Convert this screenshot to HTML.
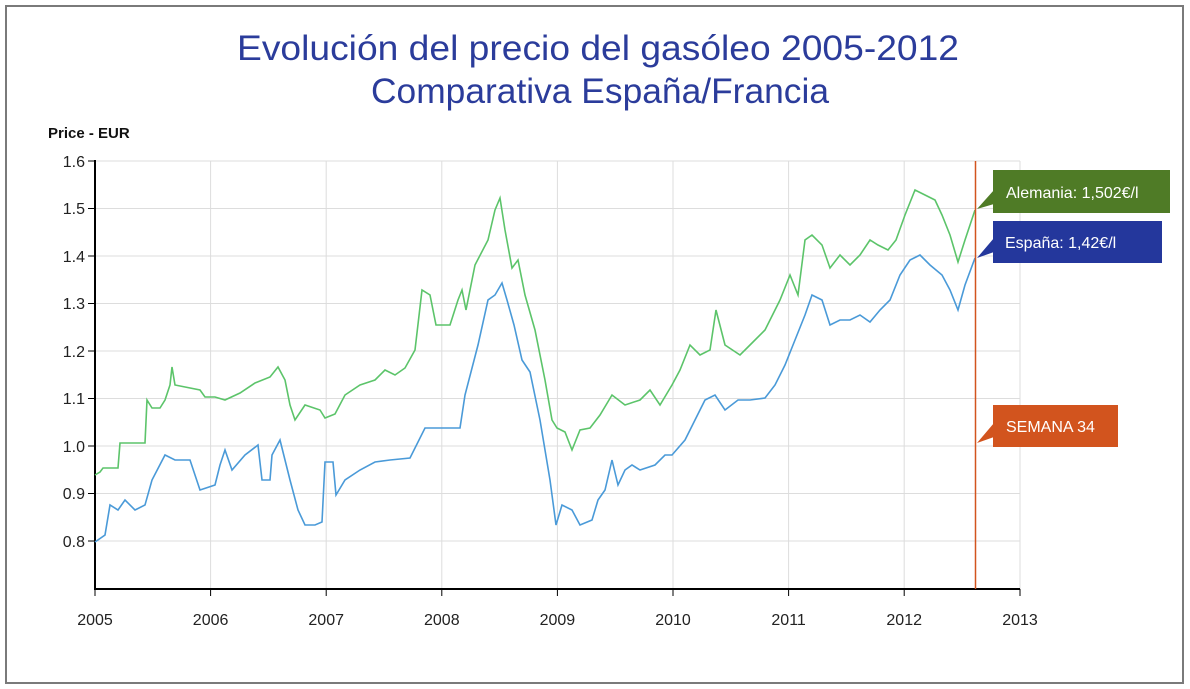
<!DOCTYPE html>
<html><head><meta charset="utf-8"><style>
body{margin:0;background:#fff;}
svg{display:block;font-family:"Liberation Sans",sans-serif;}
</style></head><body>
<svg width="1190" height="689" viewBox="0 0 1190 689">
<rect x="6" y="6" width="1177" height="677" fill="#fff" stroke="#7a7a7a" stroke-width="2"/>
<text x="598" y="60" text-anchor="middle" font-size="35" fill="#2b3c9b" textLength="722" lengthAdjust="spacingAndGlyphs">Evolución del precio del gasóleo 2005-2012</text>
<text x="600" y="103" text-anchor="middle" font-size="35" fill="#2b3c9b" textLength="458" lengthAdjust="spacingAndGlyphs">Comparativa España/Francia</text>
<text x="48" y="138" font-size="15" font-weight="bold" fill="#111">Price - EUR</text>
<g stroke="#ddd" stroke-width="1">
<line x1="95" y1="161" x2="1020" y2="161"/><line x1="95" y1="208.5" x2="1020" y2="208.5"/>
<line x1="95" y1="256" x2="1020" y2="256"/><line x1="95" y1="303.5" x2="1020" y2="303.5"/>
<line x1="95" y1="351" x2="1020" y2="351"/><line x1="95" y1="398.5" x2="1020" y2="398.5"/>
<line x1="95" y1="446" x2="1020" y2="446"/><line x1="95" y1="493.5" x2="1020" y2="493.5"/>
<line x1="95" y1="541" x2="1020" y2="541"/>
<line x1="210.6" y1="161" x2="210.6" y2="589"/><line x1="326.2" y1="161" x2="326.2" y2="589"/>
<line x1="441.8" y1="161" x2="441.8" y2="589"/><line x1="557.4" y1="161" x2="557.4" y2="589"/>
<line x1="673" y1="161" x2="673" y2="589"/><line x1="788.6" y1="161" x2="788.6" y2="589"/>
<line x1="904.2" y1="161" x2="904.2" y2="589"/><line x1="1020" y1="161" x2="1020" y2="589"/>
</g>
<g stroke="#000" stroke-width="2" fill="none">
<line x1="95" y1="160" x2="95" y2="590"/><line x1="94" y1="589" x2="1020" y2="589"/>
</g>
<g stroke="#000" stroke-width="1">
<line x1="88" y1="161" x2="95" y2="161"/><line x1="88" y1="208.5" x2="95" y2="208.5"/><line x1="88" y1="256" x2="95" y2="256"/><line x1="88" y1="303.5" x2="95" y2="303.5"/><line x1="88" y1="351" x2="95" y2="351"/><line x1="88" y1="398.5" x2="95" y2="398.5"/><line x1="88" y1="446" x2="95" y2="446"/><line x1="88" y1="493.5" x2="95" y2="493.5"/><line x1="88" y1="541" x2="95" y2="541"/>
<line x1="95" y1="589" x2="95" y2="596"/><line x1="210.6" y1="589" x2="210.6" y2="596"/><line x1="326.2" y1="589" x2="326.2" y2="596"/><line x1="441.8" y1="589" x2="441.8" y2="596"/><line x1="557.4" y1="589" x2="557.4" y2="596"/><line x1="673" y1="589" x2="673" y2="596"/><line x1="788.6" y1="589" x2="788.6" y2="596"/><line x1="904.2" y1="589" x2="904.2" y2="596"/><line x1="1020" y1="589" x2="1020" y2="596"/>
</g>
<g font-size="16" fill="#222" text-anchor="end">
<text x="85" y="167">1.6</text><text x="85" y="214">1.5</text><text x="85" y="262">1.4</text><text x="85" y="309">1.3</text><text x="85" y="357">1.2</text><text x="85" y="404">1.1</text><text x="85" y="452">1.0</text><text x="85" y="499">0.9</text><text x="85" y="547">0.8</text>
</g>
<g font-size="16" fill="#222" text-anchor="middle">
<text x="95" y="625">2005</text><text x="210.6" y="625">2006</text><text x="326.2" y="625">2007</text><text x="441.8" y="625">2008</text><text x="557.4" y="625">2009</text><text x="673" y="625">2010</text><text x="788.6" y="625">2011</text><text x="904.2" y="625">2012</text><text x="1020" y="625">2013</text>
</g>
<polyline fill="none" stroke="#5cc46a" stroke-width="1.6" points="95,475 100,472 103,468 118,468 120,443 145,443 147,400 152,408 160,408 165,400 170,385 172,367 175,385 200,390 205,397 215,397 225,400 240,393 255,383 270,377 278,367 285,380 290,405 295,420 305,405 320,410 325,418 335,414 345,395 360,385 375,380 385,370 395,375 405,368 415,350 422,290 430,295 436,325 450,325 458,300 462,290 466,310 475,265 488,240 495,210 500,198 505,230 512,268 518,260 525,295 535,330 545,380 552,420 557,428 565,432 572,450 580,430 590,428 600,415 612,395 625,405 640,400 650,390 660,405 672,385 680,370 690,345 700,355 710,350 716,310 725,345 740,355 750,345 765,330 780,300 790,275 798,295 805,240 812,235 822,245 830,268 840,255 850,265 860,255 870,240 878,245 888,250 896,240 905,215 915,190 925,195 935,200 942,215 950,235 958,262 965,240 975,210"/>
<polyline fill="none" stroke="#4a9ad8" stroke-width="1.6" points="95,542 105,535 110,505 118,510 125,500 135,510 145,505 152,480 165,455 175,460 190,460 200,490 215,485 220,465 225,450 232,470 245,455 258,445 262,480 270,480 272,455 280,440 290,480 298,510 305,525 315,525 322,522 325,462 333,462 336,495 345,480 360,470 375,462 390,460 410,458 425,428 440,428 460,428 465,395 478,345 488,300 495,295 502,283 507,300 514,325 522,360 530,372 540,420 550,480 556,525 562,505 572,510 580,525 592,520 598,500 605,490 612,460 618,485 625,470 632,465 640,470 655,465 665,455 672,455 685,440 695,420 705,400 715,395 725,410 738,400 750,400 765,398 775,385 785,365 795,340 805,315 812,295 822,300 830,325 840,320 850,320 860,315 870,322 880,310 890,300 900,275 910,260 920,255 930,265 942,275 950,290 958,310 965,285 975,258"/>
<line x1="975.5" y1="161" x2="975.5" y2="589" stroke="#d2541e" stroke-width="1.5"/>
<polygon points="977,209 994,190 994,204" fill="#4f7b26"/>
<rect x="993" y="170" width="177" height="43" fill="#4f7b26"/>
<text x="1006" y="198" font-size="16" fill="#fff">Alemania: 1,502€/l</text>
<polygon points="977,258 994,238 994,252" fill="#24379c"/>
<rect x="993" y="221" width="169" height="42" fill="#24379c"/>
<text x="1005" y="248" font-size="16" fill="#fff">España: 1,42€/l</text>
<polygon points="977,443 994,423 994,437" fill="#d2541e"/>
<rect x="993" y="405" width="125" height="42" fill="#d2541e"/>
<text x="1006" y="432" font-size="16" fill="#fff">SEMANA 34</text>
</svg>
</body></html>
